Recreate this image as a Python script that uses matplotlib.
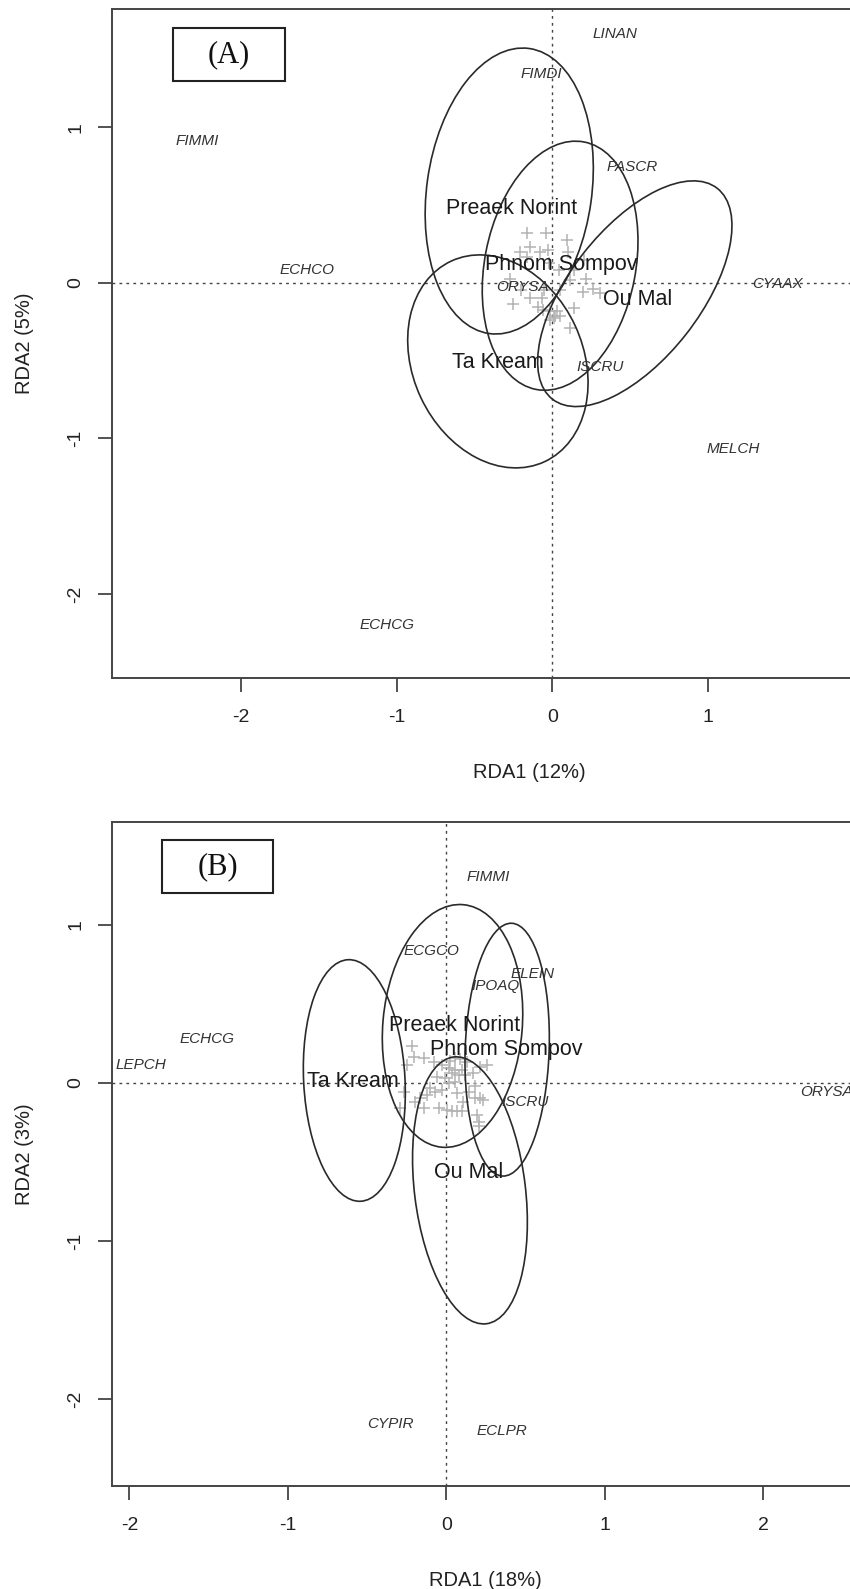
import matplotlib.pyplot as plt
from matplotlib.patches import Ellipse, Rectangle

plt.rcParams['font.family'] = ['Liberation Sans', 'DejaVu Sans']

# ---------------- Panel A data ----------------
a_site_x = [-0.163, -0.039, 0.094, -0.206, -0.141, -0.077, -0.030, 0.099, -0.274, -0.201,
            -0.146, -0.066, -0.255, -0.094, -0.060, -0.017, 0.030, 0.051, 0.019, 0.137,
            0.197, 0.262, 0.309, 0.219, 0.116, 0.051, -0.056, -0.013, 0.116, 0.041,
            0.137, -0.024, 0.201, 0.009, -0.163]
a_site_y = [0.323, 0.323, 0.276, 0.201, 0.229, 0.195, 0.208, 0.195, 0.024, -0.045,
            -0.098, -0.098, -0.135, -0.156, -0.173, -0.184, -0.178, -0.216, -0.216, -0.163,
            -0.062, -0.041, -0.066, 0.024, 0.015, -0.045, -0.045, -0.238, -0.291, 0.083,
            0.083, 0.127, 0.148, -0.227, 0.169]

a_species = ["LINAN", "FIMDI", "FIMMI", "PASCR", "ECHCO", "ORYSA", "CYAAX", "ISCRU", "MELCH", "ECHCG"]
a_species_x = [0.40, -0.07, -2.28, 0.51, -1.575, -0.19, 1.45, 0.31, 1.16, -1.06]
a_species_y = [1.60, 1.34, 0.91, 0.745, 0.08, -0.03, -0.01, -0.54, -1.07, -2.20]

a_groups = ["Preaek Norint", "Phnom Sompov", "Ou Mal", "Ta Kream"]
a_group_x = [-0.26, 0.06, 0.55, -0.35]
a_group_y = [0.48, 0.115, -0.11, -0.51]
# ellipse centre, full width, full height, rotation (deg)
a_ell_cx = [-0.277, 0.05, 0.53, -0.35]
a_ell_cy = [0.59, 0.11, -0.07, -0.505]
a_ell_w = [1.06, 0.97, 1.72, 1.094]
a_ell_h = [1.85, 1.62, 0.84, 1.422]
a_ell_ang = [-8, -11, 52, 25]

# ---------------- Panel B data ----------------
b_site_x = [-0.216, -0.206, -0.143, -0.080, -0.027, 0.025, 0.057, 0.088, 0.130, 0.015,
            0.057, 0.099, 0.036, 0.078, 0.120, 0.172, 0.215, 0.257, -0.059, -0.006,
            0.015, 0.057, -0.101, -0.122, -0.069, -0.027, -0.269, -0.164, -0.196, -0.143,
            -0.048, 0.004, 0.036, 0.067, 0.099, 0.067, 0.109, 0.183, 0.183, 0.215,
            0.235, 0.194, 0.204, -0.290, 0.141, -0.248, 0.210]
b_site_y = [0.234, 0.166, 0.156, 0.135, 0.114, 0.141, 0.156, 0.150, 0.135, 0.093,
            0.082, 0.082, 0.061, 0.051, 0.051, 0.061, 0.103, 0.114, 0.040, 0.030,
            -0.002, 0.008, -0.034, -0.076, -0.055, -0.044, -0.055, -0.097, -0.118, -0.160,
            -0.160, -0.171, -0.181, -0.181, -0.181, -0.065, -0.118, -0.023, -0.097, -0.097,
            -0.108, -0.203, -0.245, -0.160, -0.055, 0.114, -0.270]

b_species = ["FIMMI", "ECGCO", "ELEIN", "IPOAQ", "ECHCG", "LEPCH", "ISCRU", "ORYSA", "CYPIR", "ECLPR"]
b_species_x = [0.265, -0.09, 0.545, 0.31, -1.51, -1.93, 0.50, 2.40, -0.35, 0.35]
b_species_y = [1.30, 0.835, 0.69, 0.61, 0.28, 0.115, -0.12, -0.055, -2.16, -2.20]

b_groups = ["Preaek Norint", "Phnom Sompov", "Ou Mal", "Ta Kream"]
b_group_x = [0.05, 0.38, 0.14, -0.59]
b_group_y = [0.36, 0.21, -0.57, 0.01]
b_ell_cx = [0.04, 0.385, 0.15, -0.58]
b_ell_cy = [0.36, 0.21, -0.68, 0.015]
b_ell_w = [0.88, 0.53, 0.70, 0.64]
b_ell_h = [1.54, 1.60, 1.70, 1.53]
b_ell_ang = [-5, -2, 7, 3]

W, H = 850, 1589
fig = plt.figure(figsize=(W / 100, H / 100), dpi=100)


def panel(rect, xlim, ylim, xticks, yticks, xlab, ylab, tag, tagbox,
          sx, sy, sp, spx, spy, grp, gx, gy, ecx, ecy, ew, eh, ea):
    ax = fig.add_axes(rect)
    ax.set_xlim(*xlim)
    ax.set_ylim(*ylim)
    for s in ax.spines.values():
        s.set_color("#444444")
        s.set_linewidth(1.4)
    ax.set_xticks(xticks)
    ax.set_yticks(yticks)
    ax.set_xticklabels([str(t) for t in xticks], fontsize=14)
    ax.set_yticklabels([str(t) for t in yticks], fontsize=14, rotation=90, va="center")
    ax.tick_params(axis="x", length=10, width=1.3, color="#444444", pad=12, labelcolor="#222222")
    ax.tick_params(axis="y", length=10, width=1.3, color="#444444", pad=10, labelcolor="#222222")
    ax.set_xlabel(xlab, fontsize=14.5, labelpad=27, color="#222222")
    ax.set_ylabel(ylab, fontsize=14.5, labelpad=24, color="#222222")

    ax.axhline(0, color="#444444", lw=1.0, ls=(0, (2, 3)))
    ax.axvline(0, color="#444444", lw=1.0, ls=(0, (2, 3)))

    ax.plot(sx, sy, "+", color="#b3b3b3", markersize=8, mew=1.1, zorder=2)

    for cx, cy, w, h, a in zip(ecx, ecy, ew, eh, ea):
        ax.add_patch(Ellipse((cx, cy), w, h, angle=a, fill=False,
                             edgecolor="#2a2a2a", lw=1.2, zorder=3))

    for name, x, y in zip(sp, spx, spy):
        ax.text(x, y, name, fontsize=11, style="italic", color="#333333",
                ha="center", va="center", zorder=4)
    for name, x, y in zip(grp, gx, gy):
        ax.text(x, y, name, fontsize=15.5, color="#1a1a1a",
                ha="center", va="center", zorder=4)

    x0, y0, x1, y1 = tagbox
    ax.add_patch(Rectangle((x0, y0), x1 - x0, y1 - y0, transform=ax.transAxes,
                           fill=False, edgecolor="#222222", lw=1.5, zorder=5))
    ax.text((x0 + x1) / 2, (y0 + y1) / 2, tag, transform=ax.transAxes,
            fontsize=22, family="Liberation Serif", ha="center", va="center",
            color="#111111", zorder=5)
    return ax


# Panel A: axes box from x=112..946 px, y=9..678 px
panel([112 / W, 1 - 678 / H, (946 - 112) / W, (678 - 9) / H],
      (-2.83, 2.53), (-2.54, 1.76), [-2, -1, 0, 1], [-2, -1, 0, 1],
      "RDA1 (12%)", "RDA2 (5%)", "(A)", (0.0731, 0.892, 0.2074, 0.9716),
      a_site_x, a_site_y, a_species, a_species_x, a_species_y,
      a_groups, a_group_x, a_group_y, a_ell_cx, a_ell_cy, a_ell_w, a_ell_h, a_ell_ang)

# Panel B: axes box from x=112..858 px, y=822..1486 px
panel([112 / W, 1 - 1486 / H, (858 - 112) / W, (1486 - 822) / H],
      (-2.11, 2.60), (-2.55, 1.65), [-2, -1, 0, 1, 2], [-2, -1, 0, 1],
      "RDA1 (18%)", "RDA2 (3%)", "(B)", (0.067, 0.893, 0.216, 0.9729),
      b_site_x, b_site_y, b_species, b_species_x, b_species_y,
      b_groups, b_group_x, b_group_y, b_ell_cx, b_ell_cy, b_ell_w, b_ell_h, b_ell_ang)

fig.savefig("out.png", dpi=100)
